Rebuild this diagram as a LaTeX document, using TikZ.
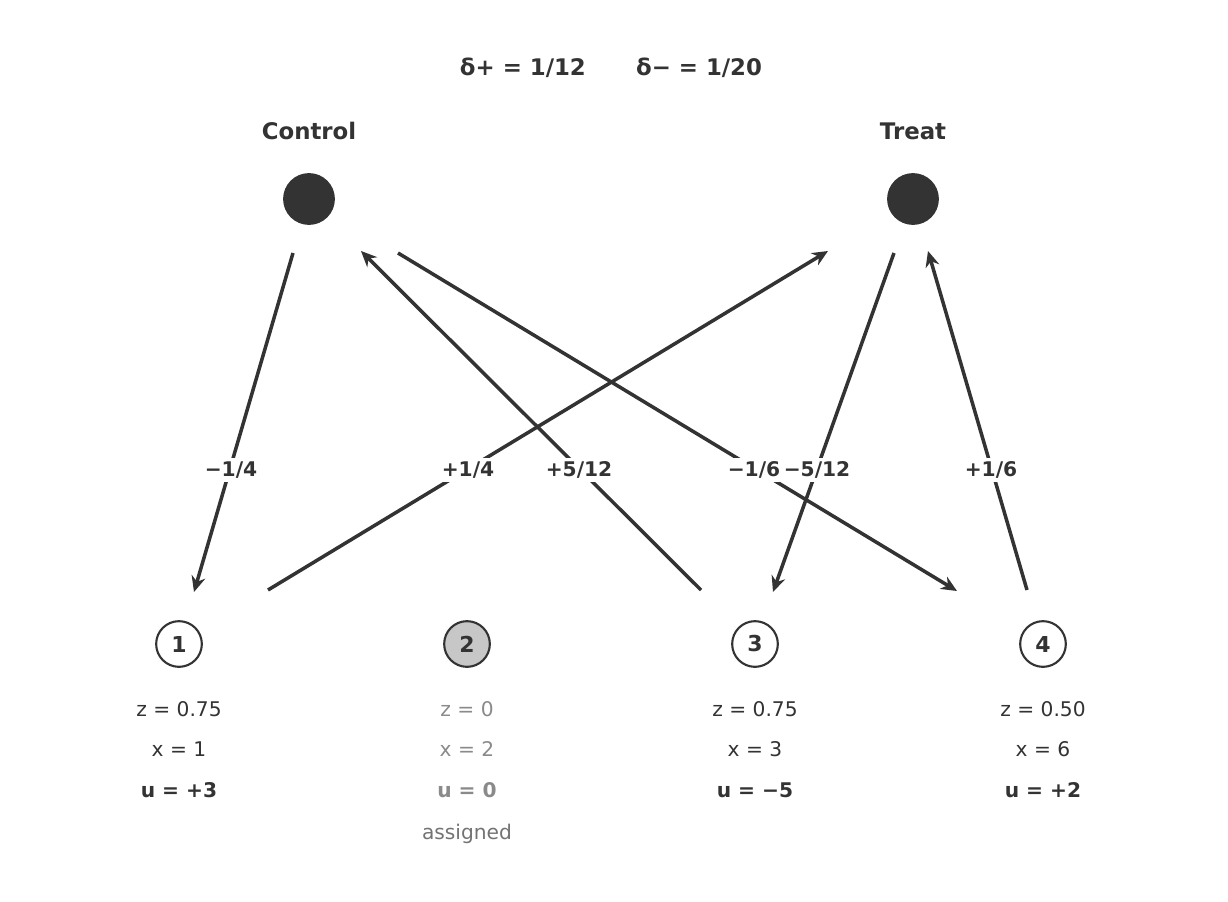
\documentclass[tikz,border=0pt]{standalone}
\usepackage{fontspec}
\setmainfont{DejaVu Sans}
\usetikzlibrary{arrows.meta}
\definecolor{ink}{HTML}{333333}
\definecolor{mute}{HTML}{8A8A8A}
\begin{document}
\begin{tikzpicture}[x=0.02cm,y=-0.02cm,
  arr/.style={draw=ink,line width=2pt,-{Stealth[length=9pt,width=8pt]}},
  lbl/.style={fill=white,text=ink,font=\fontsize{11.5}{13}\selectfont\bfseries,inner sep=2pt},
  dot/.style={circle,fill=ink,minimum size=29.5pt,inner sep=0},
  num/.style={circle,draw=ink,line width=1.2pt,minimum size=26pt,inner sep=0,text=ink,font=\fontsize{12.5}{14}\selectfont\bfseries},
  info/.style={text=ink,font=\fontsize{11.5}{13}\selectfont},
  head/.style={text=ink,font=\fontsize{13}{15}\selectfont\bfseries}]
\useasboundingbox (0,0) rectangle (1228,902);
\node[head] (title) at (611,68) {δ+ = 1/12\hspace{2.2em}δ− = 1/20};
\node[head] (cl) at (309,131) {Control};
\node[head] (tl) at (913,131) {Treat};
\node[dot] (C) at (309,199) {};
\node[dot] (T) at (913,199) {};
\node[num] (n1) at (179,644) {1};
\node[num,fill=black!22] (n2) at (467,644) {2};
\node[num] (n3) at (755,644) {3};
\node[num] (n4) at (1043,644) {4};
\node[info] (z1) at (179,709) {z = 0.75};
\node[info] (x1) at (179,749) {x = 1};
\node[info,font=\fontsize{11.5}{13}\selectfont\bfseries] (u1) at (179,790) {u = +3};
\node[info,text=mute] (z2) at (467,709) {z = 0};
\node[info,text=mute] (x2) at (467,749) {x = 2};
\node[info,text=mute,font=\fontsize{11.5}{13}\selectfont\bfseries] (u2) at (467,790) {u = 0};
\node[info,text=black!55] (as) at (467,834) {assigned};
\node[info] (z3) at (755,709) {z = 0.75};
\node[info] (x3) at (755,749) {x = 3};
\node[info,font=\fontsize{11.5}{13}\selectfont\bfseries] (u3) at (755,790) {u = −5};
\node[info] (z4) at (1043,709) {z = 0.50};
\node[info] (x4) at (1043,749) {x = 6};
\node[info,font=\fontsize{11.5}{13}\selectfont\bfseries] (u4) at (1043,790) {u = +2};
% endpoints
\coordinate (a1) at (293,253); \coordinate (b1) at (194,592);
\coordinate (a2) at (268,590); \coordinate (b2) at (828,251);
\coordinate (a3) at (701,590); \coordinate (b3) at (361,251);
\coordinate (a4) at (398,253); \coordinate (b4) at (957,591);
\coordinate (a5) at (894,253); \coordinate (b5) at (773,592);
\coordinate (a6) at (1027,590); \coordinate (b6) at (928,251);
\draw[arr] (a1) -- (b1);
\draw[arr] (a2) -- (b2);
\draw[arr] (a3) -- (b3);
\draw[arr] (a4) -- (b4);
\draw[arr] (a5) -- (b5);
\draw[arr] (a6) -- (b6);
\node[lbl] (l1) at (231,470) {−1/4};
\node[lbl] (l2) at (468,470) {+1/4};
\node[lbl] (l3) at (579,470) {+5/12};
\node[lbl] (l4) at (817,470) {−5/12};
\node[lbl] (l5) at (754,470) {−1/6};
\node[lbl] (l6) at (991,470) {+1/6};
\end{tikzpicture}
\end{document}
